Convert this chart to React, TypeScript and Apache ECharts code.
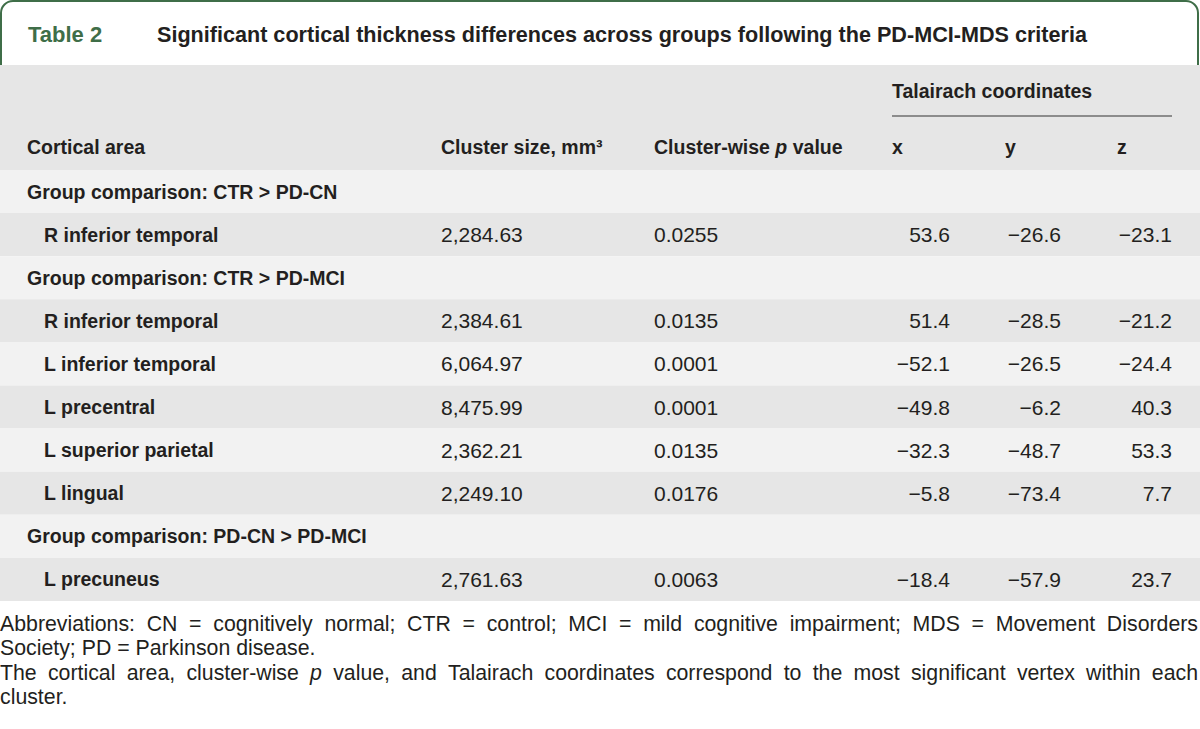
import React, { useEffect, useRef } from "react";
import * as echarts from "echarts";

const TITLE_LABEL = "Table 2";
const TITLE = "Significant cortical thickness differences across groups following the PD-MCI-MDS criteria";
const HEAD_CORTICAL = "Cortical area";
const HEAD_CLUSTER = "Cluster size, mm³";
const HEAD_TAL = "Talairach coordinates";
const HEAD_XYZ = ["x", "y", "z"];

const groups = [
  "Group comparison: CTR > PD-CN",
  "Group comparison: CTR > PD-MCI",
  "Group comparison: PD-CN > PD-MCI",
];
const regionGroup = [0, 1, 1, 1, 1, 1, 2];
const regions = [
  "R inferior temporal",
  "R inferior temporal",
  "L inferior temporal",
  "L precentral",
  "L superior parietal",
  "L lingual",
  "L precuneus",
];
const clusterSizes = [2284.63, 2384.61, 6064.97, 8475.99, 2362.21, 2249.1, 2761.63];
const pValues = [0.0255, 0.0135, 0.0001, 0.0001, 0.0135, 0.0176, 0.0063];
const talX = [53.6, 51.4, -52.1, -49.8, -32.3, -5.8, -18.4];
const talY = [-26.6, -28.5, -26.5, -6.2, -48.7, -73.4, -57.9];
const talZ = [-23.1, -21.2, -24.4, 40.3, 53.3, 7.7, 23.7];

const footLine1 = "Abbreviations: CN = cognitively normal; CTR = control; MCI = mild cognitive impairment; MDS = Movement Disorders";
const footLine2 = "Society; PD = Parkinson disease.";
const footLine3 = "The cortical area, cluster-wise *p* value, and Talairach coordinates correspond to the most significant vertex within each";
const footLine4 = "cluster.";

const FONT = "'Liberation Sans', Arial, sans-serif";
const GREEN = "#3f6e48";
const TEXT = "#231f20";
const DARK = "#e6e6e6";
const LIGHT = "#f2f2f2";

const TITLE_FS = 21.6;
const BOLD_FS = 19.5;
const NUM_FS = 21;
const FOOT_FS = 21.3;

const fmtCoord = (v: number) => (v < 0 ? "\u2212" + Math.abs(v).toFixed(1) : v.toFixed(1));
const fmtSize = (v: number) =>
  v.toLocaleString("en-US", { minimumFractionDigits: 2, maximumFractionDigits: 2 });

function measure(text: string, font: string) {
  const c = document.createElement("canvas");
  const ctx = c.getContext("2d")!;
  ctx.font = font;
  return ctx.measureText(text).width;
}

export default function App() {
  const ref = useRef<HTMLDivElement>(null);
  useEffect(() => {
    if (!ref.current) return;
    const chart = echarts.init(ref.current, null, { renderer: "svg" });
    const els: any[] = [];
    const txt = (text: string, x: number, y: number, o: any = {}) =>
      els.push({
        type: "text",
        x,
        y,
        silent: true,
        style: {
          text,
          fill: o.fill || TEXT,
          fontSize: o.size || BOLD_FS,
          fontFamily: FONT,
          fontWeight: o.bold ? "bold" : "normal",
          fontStyle: o.italic ? "italic" : "normal",
          align: o.align || "left",
          verticalAlign: "middle",
          rich: o.rich,
        },
      });

    // title box
    els.push({
      type: "rect",
      shape: { x: 1, y: 1, width: 1197, height: 100, r: [12, 12, 0, 0] },
      style: { fill: "#fff", stroke: GREEN, lineWidth: 2 },
      silent: true,
    });
    txt(TITLE_LABEL, 28, 34, { bold: true, size: 22, fill: GREEN });
    txt(TITLE, 157, 34, { bold: true, size: TITLE_FS });

    // header band
    const HEAD_TOP = 65;
    const ROW_TOP = 170;
    const ROW_H = 43.1;
    els.push({
      type: "rect",
      shape: { x: 0, y: HEAD_TOP, width: 1200, height: ROW_TOP - HEAD_TOP },
      style: { fill: DARK },
      silent: true,
    });

    const colSize = 441;
    const colP = 654;
    const colXr = 950;
    const colYr = 1061;
    const colZr = 1172;
    const headY = 147;
    txt(HEAD_CORTICAL, 27, headY, { bold: true });
    txt(HEAD_CLUSTER, colSize, headY, { bold: true });
    txt("{a|Cluster-wise }{b|p}{a| value}", colP, headY, {
      bold: true,
      rich: {
        a: { fontSize: BOLD_FS, fontFamily: FONT, fontWeight: "bold", color: TEXT },
        b: { fontSize: BOLD_FS, fontFamily: FONT, fontWeight: "bold", fontStyle: "italic", color: TEXT },
      },
    });
    txt(HEAD_TAL, 892, 91, { bold: true });
    els.push({
      type: "line",
      shape: { x1: 892, y1: 116, x2: 1172, y2: 116 },
      style: { stroke: "#333", lineWidth: 1 },
      silent: true,
    });
    txt(HEAD_XYZ[0], 892, headY, { bold: true });
    txt(HEAD_XYZ[1], 1005, headY, { bold: true });
    txt(HEAD_XYZ[2], 1117, headY, { bold: true });

    // rows
    let rowIdx = 0;
    let lastGroup = -1;
    const addBand = (i: number) =>
      els.push({
        type: "rect",
        shape: { x: 0, y: ROW_TOP + i * ROW_H, width: 1200, height: ROW_H },
        style: { fill: i % 2 === 0 ? LIGHT : DARK },
        silent: true,
      });
    regions.forEach((r, k) => {
      if (regionGroup[k] !== lastGroup) {
        lastGroup = regionGroup[k];
        addBand(rowIdx);
        txt(groups[lastGroup], 27, ROW_TOP + rowIdx * ROW_H + ROW_H / 2, { bold: true });
        rowIdx++;
      }
      addBand(rowIdx);
      const cy = ROW_TOP + rowIdx * ROW_H + ROW_H / 2;
      txt(r, 44, cy, { bold: true });
      txt(fmtSize(clusterSizes[k]), colSize, cy, { size: NUM_FS });
      txt(pValues[k].toFixed(4), colP, cy, { size: NUM_FS });
      txt(fmtCoord(talX[k]), colXr, cy, { align: "right", size: NUM_FS });
      txt(fmtCoord(talY[k]), colYr, cy, { align: "right", size: NUM_FS });
      txt(fmtCoord(talZ[k]), colZr, cy, { align: "right", size: NUM_FS });
      rowIdx++;
    });

    // footnotes
    const justify = (line: string, y: number, x0: number, x1: number) => {
      const words = line.split(" ").map((w) => {
        const it = w.startsWith("*") && w.endsWith("*");
        return { t: it ? w.slice(1, -1) : w, it };
      });
      const widths = words.map((w) =>
        measure(w.t, `${w.it ? "italic " : ""}normal ${FOOT_FS}px ${FONT}`)
      );
      const total = widths.reduce((a, b) => a + b, 0);
      const gap = (x1 - x0 - total) / (words.length - 1);
      let x = x0;
      words.forEach((w, i) => {
        txt(w.t, x, y, { size: FOOT_FS, italic: w.it });
        x += widths[i] + gap;
      });
    };
    justify(footLine1, 624, 0, 1198);
    txt(footLine2, 0, 648, { size: FOOT_FS });
    justify(footLine3, 673, 0, 1198);
    txt(footLine4, 0, 697, { size: FOOT_FS });

    chart.setOption({ animation: false, graphic: { elements: els } });
    return () => chart.dispose();
  }, []);
  return (
    <div
      ref={ref}
      style={{ position: "fixed", left: 0, top: 0, width: 1200, height: 729, background: "#fff" }}
    />
  );
}
